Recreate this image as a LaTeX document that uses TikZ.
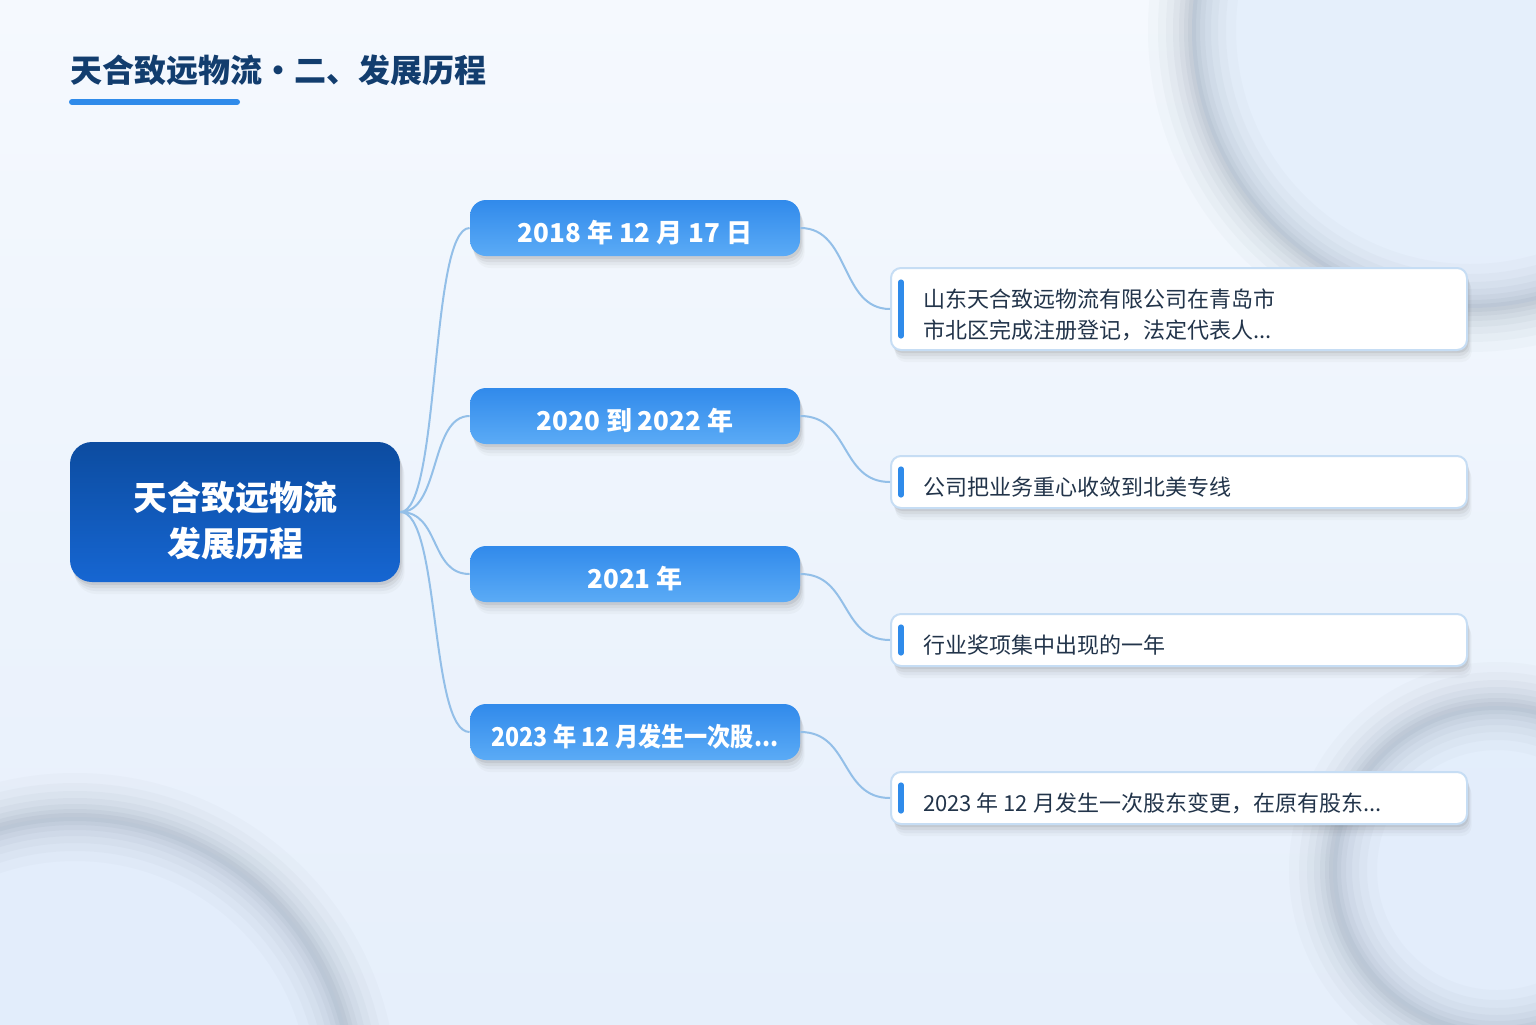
\documentclass[tikz,border=0pt]{standalone}
\usepackage{fontspec}
\usepackage{graphicx}
\setmainfont{Noto Sans CJK SC}
\usetikzlibrary{shadows}
\definecolor{bgtop}{HTML}{F5F9FE}
\definecolor{bgbot}{HTML}{E6EFFB}
\definecolor{innerc}{HTML}{E2EDFB}
\definecolor{ringc}{HTML}{8593A8}
\definecolor{titlec}{HTML}{123D6E}
\definecolor{accent}{HTML}{2F8BEA}
\definecolor{centtop}{HTML}{0C4CA0}
\definecolor{centbot}{HTML}{1666D2}
\definecolor{datetop}{HTML}{318AEB}
\definecolor{datebot}{HTML}{5BABF6}
\definecolor{connc}{HTML}{93BFE8}
\definecolor{detborder}{HTML}{C6DDF4}
\definecolor{dettext}{HTML}{22344A}
\newcommand\dettxt[2]{\raisebox{-#1}[0pt][0pt]{\parbox[b]{256pt}{\raggedright #2}}}
\newcommand\lowered[2]{\raisebox{-#1}[0pt][0pt]{#2}}
\tikzset{
  softshadow/.style={
    drop shadow={shadow xshift=0.8pt, shadow yshift=-1.5pt, opacity=0.10, fill=black!70},
    drop shadow={shadow xshift=1.3pt, shadow yshift=-3pt, opacity=0.07, fill=black!70},
    drop shadow={shadow xshift=1.8pt, shadow yshift=-4.5pt, opacity=0.05, fill=black!70},
    drop shadow={shadow xshift=2.3pt, shadow yshift=-6pt, opacity=0.035, fill=black!70}},
  centbox/.style={rounded corners=11pt, top color=centtop, bottom color=centbot, softshadow,
    minimum width=165pt, minimum height=70pt, text=white, inner sep=0pt,
    font=\bfseries\fontsize{17pt}{23pt}\selectfont},
  datebox/.style={rounded corners=8pt, top color=datetop, bottom color=datebot, softshadow,
    minimum width=165pt, minimum height=28pt, text=white, inner sep=0pt,
    font=\bfseries\fontsize{13pt}{15pt}\selectfont},
  detbox/.style={rounded corners=5pt, fill=white, draw=detborder, line width=1pt, softshadow,
    anchor=west, minimum width=288pt, inner xsep=16pt, inner ysep=0pt, text=dettext,
    font=\fontsize{11pt}{15.5pt}\selectfont},
  conn/.style={draw=connc, line width=1pt},
  accbar/.style={draw=accent, line width=2.6pt, line cap=round},
}
\begin{document}
\begin{tikzpicture}[x=0.5pt,y=-0.5pt]
\useasboundingbox (0,0) rectangle (1536,1024);
\begin{scope}
\clip (0,0) rectangle (1536,1024);
\shade[top color=bgtop, bottom color=bgbot] (0,0) rectangle (1536,1024);
% soft decorative rings
\fill[innerc, opacity=0.8] (1470,30) circle (139pt);
\fill[innerc, opacity=0.8] (75,1095) circle (139pt);
\fill[innerc, opacity=0.8] (1497,870) circle (82pt);
\foreach \w/\o in {44/0.04,34/0.05,26/0.06,19/0.07,13/0.08,8/0.09,4/0.1}{
  \draw[ringc, line width=\w pt, opacity=\o] (1470,30) circle (139pt);
  \draw[ringc, line width=\w pt, opacity=\o] (75,1095) circle (139pt);
  \draw[ringc, line width=\w pt, opacity=\o] (1497,870) circle (82pt);
}
\end{scope}

% title
\node[anchor=west, inner sep=0pt, text=titlec, font=\bfseries\fontsize{16pt}{18pt}\selectfont] (title) at (70,70) {天合致远物流・二、发展历程};
\draw[accent, line width=3pt, line cap=round] (72,102) -- (237,102);

% central node
\node[centbox] (c) at (235,512) {\raisebox{-22pt}[0pt][0pt]{\parbox[b]{160pt}{\centering 天合致远物流\\发展历程}}};

% date boxes
\node[datebox] (a1) at (635,228) {\lowered{7pt}{2018 年 12 月 17 日}};
\node[datebox] (a2) at (635,416) {\lowered{7pt}{2020 到 2022 年}};
\node[datebox] (a3) at (635,574) {\lowered{7pt}{2021 年}};
\node[datebox] (a4) at (635,732) {\lowered{7pt}{\scalebox{0.89}[1]{2023 年 12 月发生一次股...}}};

% detail boxes
\node[detbox, minimum height=41pt] (d1) at (890,309) {\dettxt{14.5pt}{山东天合致远物流有限公司在青岛市\\市北区完成注册登记，法定代表人...}};
\node[detbox, minimum height=26pt] (d2) at (890,482) {\dettxt{6.5pt}{公司把业务重心收敛到北美专线}};
\node[detbox, minimum height=26pt] (d3) at (890,640) {\dettxt{6.5pt}{行业奖项集中出现的一年}};
\node[detbox, minimum height=26pt] (d4) at (890,798) {\dettxt{6.5pt}{2023 年 12 月发生一次股东变更，在原有股东...}};

\draw[accbar] ([xshift=5.5pt,yshift=13.5pt]d1.west) -- ([xshift=5.5pt,yshift=-13.5pt]d1.west);
\foreach \d in {d2,d3,d4}{
  \draw[accbar] ([xshift=5.5pt,yshift=6.5pt]\d.west) -- ([xshift=5.5pt,yshift=-6.5pt]\d.west);
}

% connectors
\foreach \a in {a1,a2,a3,a4}{
  \draw[conn] (c.east) .. controls +(20pt,0) and +(-20pt,0) .. (\a.west);
}
\draw[conn] (a1.east) .. controls +(25pt,0) and +(-25pt,0) .. (d1.west);
\draw[conn] (a2.east) .. controls +(25pt,0) and +(-25pt,0) .. (d2.west);
\draw[conn] (a3.east) .. controls +(25pt,0) and +(-25pt,0) .. (d3.west);
\draw[conn] (a4.east) .. controls +(25pt,0) and +(-25pt,0) .. (d4.west);
\end{tikzpicture}
\end{document}
